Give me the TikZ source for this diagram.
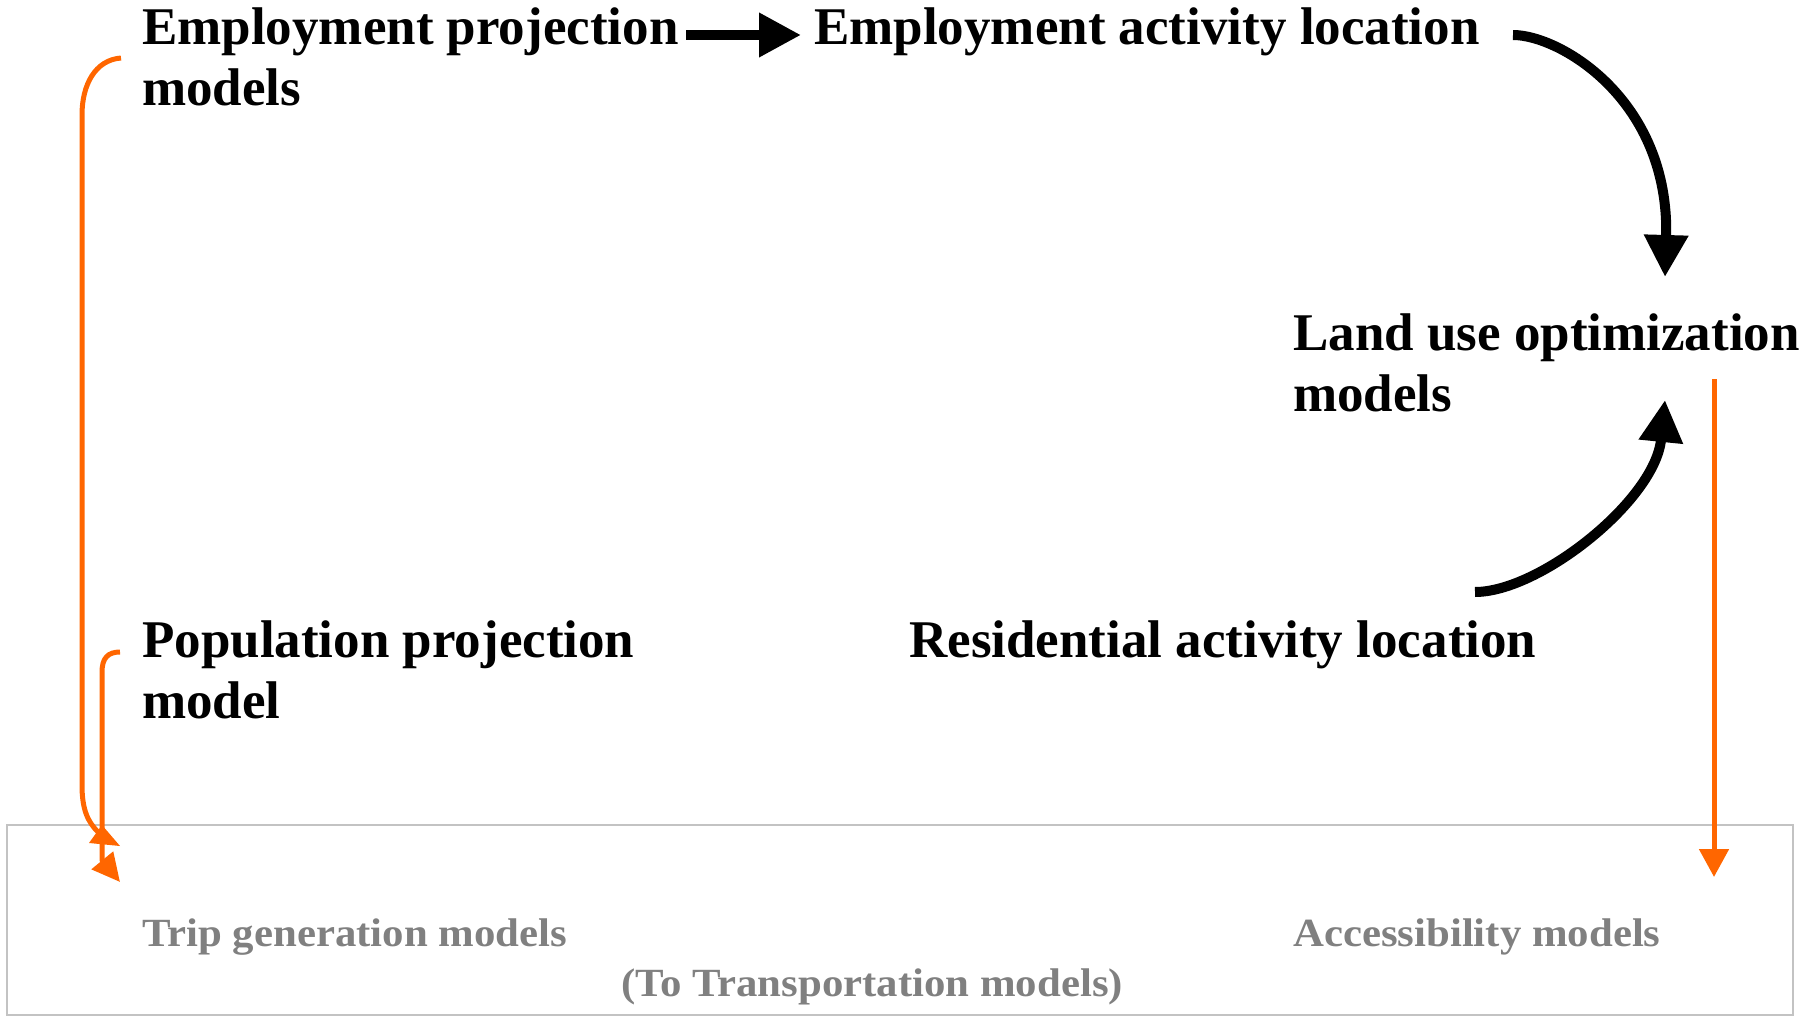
\documentclass[tikz,border=0pt]{standalone}
\usepackage{fontspec}
\setmainfont{Liberation Serif}
\usetikzlibrary{arrows.meta}
\definecolor{orng}{RGB}{255,102,0}
\definecolor{gtxt}{RGB}{128,128,128}
\definecolor{gbox}{RGB}{195,195,195}
\newcommand{\wideg}[1]{\scalebox{1.07}[1]{#1}}
\begin{document}
\begin{tikzpicture}[x=1pt,y=-1pt,
  lbl/.style={inner sep=0pt, anchor=base west, align=left, font=\fontsize{53}{61}\selectfont\bfseries},
  glbl/.style={inner sep=0pt, anchor=base west, text=gtxt, font=\fontsize{40}{45}\selectfont\bfseries},
  blk/.style={line width=10pt, -{Triangle[length=42pt,width=42pt]}},
  org/.style={draw=orng, line width=5pt},
]
\useasboundingbox (0,0) rectangle (1807,1016);

% transportation box
\node[draw=gbox, line width=2pt, minimum width=1786pt, minimum height=190pt,
      inner sep=0pt, anchor=north west] (box) at (6,824) {};

% labels (base anchor = baseline of last line)
\node[lbl] (ep) at (142,106) {Employment projection\\models};
\node[lbl] (ea) at (814,45) {Employment activity location};
\node[lbl] (lu) at (1293,411) {Land use optimization\\models};
\node[lbl] (pp) at (142,718) {Population projection\\model};
\node[lbl] (ra) at (909,657) {Residential activity location};
\node[glbl] (tg) at (142,946) {\wideg{Trip generation models}};
\node[glbl] (ac) at (1293,946) {\wideg{Accessibility models}};
\node[glbl] (tt) at (621,996) {\wideg{(To Transportation models)}};

% connector end points
\coordinate (ep-out) at (686,35);
\coordinate (ea-in) at (801,35);
\coordinate (ea-out) at (1513,35);
\coordinate (lu-in1) at (1665,277);
\coordinate (ra-out) at (1475,592);
\coordinate (lu-in2) at (1665,400);
\coordinate (lu-out) at (1714,379);
\coordinate (ac-in) at (1714,877);
\coordinate (ep-side) at (121,58);
\coordinate (tg-in1) at (98,832);
\coordinate (pp-side) at (120,652);
\coordinate (tg-in2) at (120,882);

% black arrows
\draw[blk] (ep-out) -- (ea-in);
\draw[blk] (ea-out) .. controls (1560,35) and (1670,100) .. (lu-in1);
\draw[blk] (ra-out) .. controls (1540,592) and (1655,500) .. (lu-in2);

% orange arrows
\draw[org, -{Triangle[length=28pt,width=29pt]}] (lu-out) -- (ac-in);
\draw[org] (ep-side) .. controls (95,60) and (82,85) .. (82,115) -- (82,785)
           .. controls (82,810) and (88,822) .. (tg-in1);
\fill[orng] (102,825) -- (89,843) -- (120,846) -- cycle;
\draw[org, -{Triangle[length=28pt,width=27pt]}] (pp-side) .. controls (108,652) and (102,658) .. (102,672)
           -- (102,860) -- (tg-in2);
\end{tikzpicture}
\end{document}
